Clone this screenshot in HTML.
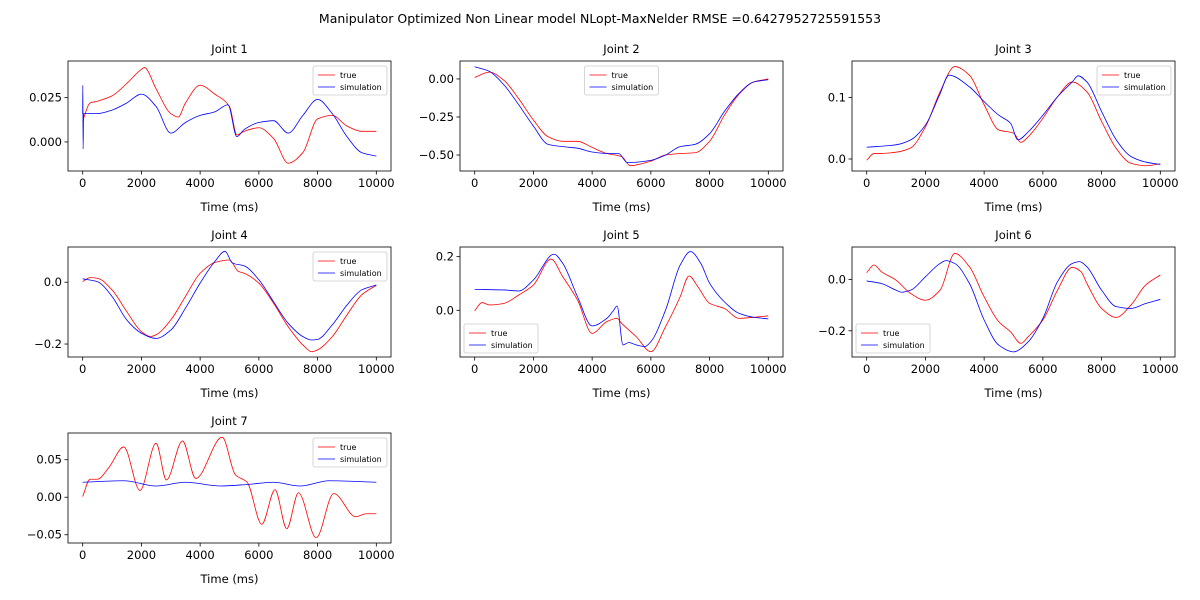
<!DOCTYPE html>
<html><head><meta charset="utf-8"><style>
body{margin:0;background:#fff;}
svg{display:block;font-family:"DejaVu Sans","Liberation Sans",sans-serif;}
</style></head><body>
<svg id="fig" width="1200" height="600" viewBox="0 0 1200 600">
<rect width="1200" height="600" fill="#fff"/>
<text x="600" y="23" text-anchor="middle" font-size="12.5" fill="#000">Manipulator Optimized Non Linear model NLopt-MaxNelder RMSE =0.6427952725591553</text>
</svg>
<script>
// ---- data ----
const xTicks = [0, 2000, 4000, 6000, 8000, 10000];
const j1TrueT = [0,250,500,1000,1500,2000,2100,2500,3000,3250,3500,4000,4500,5000,5250,5500,6000,6500,7000,7500,8000,8500,9000,9500,10000];
const j1TrueV = [0.012,0.022,0.023,0.026,0.033,0.041,0.042,0.030,0.016,0.014,0.022,0.032,0.027,0.020,0.004,0.006,0.008,0.002,-0.012,-0.006,0.013,0.015,0.009,0.006,0.006];
const j1SimT = [0,5,15,30,500,1000,1500,2000,2500,3000,3500,4000,4500,4950,5250,5500,6000,6500,7000,7500,8000,8500,9000,9500,10000];
const j1SimV = [0.016,0.032,-0.004,0.016,0.016,0.018,0.022,0.027,0.020,0.005,0.011,0.015,0.017,0.021,0.003,0.007,0.011,0.012,0.005,0.015,0.024,0.016,0.003,-0.006,-0.008];
const j2TrueT = [0,500,1000,1500,2000,2500,3000,3500,4000,4500,5000,5300,6000,6500,7000,7500,8000,8500,9000,9500,10000];
const j2TrueV = [0.01,0.045,-0.01,-0.13,-0.27,-0.38,-0.41,-0.41,-0.45,-0.49,-0.51,-0.57,-0.54,-0.50,-0.49,-0.485,-0.41,-0.24,-0.10,-0.02,0.0];
const j2SimT = [0,500,1000,1500,2000,2500,3000,3500,4000,4500,4900,5200,6000,6500,7000,7500,8000,8500,9000,9500,10000];
const j2SimV = [0.08,0.05,-0.04,-0.17,-0.31,-0.43,-0.445,-0.455,-0.48,-0.49,-0.49,-0.55,-0.535,-0.50,-0.445,-0.43,-0.36,-0.215,-0.095,-0.02,-0.005];
const j3TrueT = [0,250,500,1000,1500,2000,2500,3000,3500,4000,4500,5000,5250,5500,6000,6500,7000,7500,8000,8500,9000,9500,10000];
const j3TrueV = [-0.002,0.009,0.009,0.011,0.018,0.052,0.109,0.150,0.136,0.088,0.047,0.042,0.027,0.036,0.066,0.101,0.125,0.109,0.061,0.017,-0.007,-0.011,-0.008];
const j3SimT = [0,1000,1500,2000,2500,2800,3500,4000,4500,4900,5150,5500,6000,6500,7000,7200,7500,8000,8500,9000,9500,10000];
const j3SimV = [0.019,0.023,0.031,0.055,0.106,0.136,0.117,0.093,0.071,0.058,0.031,0.044,0.071,0.101,0.125,0.135,0.125,0.077,0.031,0.004,-0.005,-0.009];
const j4TrueT = [0,250,500,1000,1500,2000,2300,2500,3000,3500,4000,4500,5000,5300,5500,6000,6500,7000,7500,7800,8000,8500,9000,9500,10000];
const j4TrueV = [0.002,0.015,0.013,-0.025,-0.095,-0.16,-0.176,-0.17,-0.122,-0.046,0.029,0.064,0.072,0.035,0.029,-0.003,-0.068,-0.144,-0.203,-0.225,-0.219,-0.176,-0.106,-0.041,-0.01];
const j4SimT = [0,500,1000,1500,2000,2500,3000,3500,4000,4500,4850,5100,5500,6000,6500,7000,7500,7800,8000,8500,9000,9500,10000];
const j4SimV = [0.011,0.002,-0.046,-0.122,-0.165,-0.182,-0.155,-0.084,-0.003,0.067,0.10,0.062,0.053,0.008,-0.063,-0.133,-0.176,-0.187,-0.185,-0.138,-0.074,-0.025,-0.009];
const j5TrueT = [0,250,500,1000,1500,2000,2600,3000,3500,4000,4500,4850,5000,5500,6000,6500,7000,7300,7600,8000,8500,9000,9500,10000];
const j5TrueV = [-0.002,0.029,0.02,0.026,0.057,0.094,0.191,0.125,0.039,-0.086,-0.042,-0.030,-0.048,-0.098,-0.154,-0.061,0.051,0.128,0.088,0.026,0.007,-0.030,-0.026,-0.021];
const j5SimT = [0,1000,1500,2000,2700,3000,3500,4000,4500,4700,4850,5050,5250,5500,5800,6000,6500,7000,7350,7700,8000,8500,9000,9500,10000];
const j5SimV = [0.078,0.076,0.072,0.113,0.209,0.175,0.051,-0.058,-0.030,-0.005,0.016,-0.129,-0.12,-0.129,-0.135,-0.117,0.001,0.169,0.219,0.175,0.101,0.032,-0.011,-0.026,-0.032];
const j6TrueT = [0,250,500,1000,1500,2000,2500,3000,3500,4000,4500,4900,5250,5500,6000,6500,7000,7300,7500,8000,8500,9000,9500,10000];
const j6TrueV = [0.026,0.056,0.03,-0.003,-0.055,-0.081,-0.042,0.101,0.049,-0.068,-0.165,-0.204,-0.249,-0.223,-0.158,-0.042,0.047,0.03,-0.016,-0.113,-0.148,-0.10,-0.022,0.017];
const j6SimT = [0,500,1000,1200,1500,2000,2500,2700,3000,3500,4000,4500,5000,5500,6000,6500,7000,7250,7500,8000,8500,9000,9500,10000];
const j6SimV = [-0.006,-0.016,-0.042,-0.05,-0.042,0.01,0.062,0.073,0.062,-0.016,-0.158,-0.256,-0.282,-0.243,-0.152,-0.009,0.062,0.069,0.049,-0.042,-0.106,-0.113,-0.094,-0.078];
const j7TrueT = [0,250,500,900,1400,1950,2500,2850,3400,3850,4750,5200,5600,6100,6550,6950,7350,7950,8550,9300,9650,10000];
const j7TrueV = [0.001,0.024,0.024,0.040,0.067,0.009,0.072,0.023,0.075,0.025,0.080,0.030,0.020,-0.036,0.010,-0.042,0.006,-0.054,0.005,-0.026,-0.022,-0.022];
const j7SimT = [0,1400,2500,3500,4700,5600,6500,7400,8400,10000];
const j7SimV = [0.020,0.022,0.015,0.020,0.015,0.017,0.020,0.015,0.022,0.020];

const panels = [
 {title:"Joint 1", box:[68,61,391,171], y:[-0.0164,0.0457], yt:[0.000,0.025], dec:3, leg:"ur", tT:j1TrueT,tV:j1TrueV,sT:j1SimT,sV:j1SimV},
 {title:"Joint 2", box:[460,61,783,171], y:[-0.605,0.118], yt:[-0.50,-0.25,0.00], dec:2, leg:"uc", tT:j2TrueT,tV:j2TrueV,sT:j2SimT,sV:j2SimV},
 {title:"Joint 3", box:[852,61,1175,171], y:[-0.0195,0.159], yt:[0.0,0.1], dec:1, leg:"ur", tT:j3TrueT,tV:j3TrueV,sT:j3SimT,sV:j3SimV},
 {title:"Joint 4", box:[68,247,391,357], y:[-0.242,0.114], yt:[-0.2,0.0], dec:1, leg:"ur", tT:j4TrueT,tV:j4TrueV,sT:j4SimT,sV:j4SimV},
 {title:"Joint 5", box:[460,247,783,357], y:[-0.174,0.236], yt:[0.0,0.2], dec:1, leg:"ll", tT:j5TrueT,tV:j5TrueV,sT:j5SimT,sV:j5SimV},
 {title:"Joint 6", box:[852,247,1175,357], y:[-0.302,0.126], yt:[-0.2,0.0], dec:1, leg:"ll", tT:j6TrueT,tV:j6TrueV,sT:j6SimT,sV:j6SimV},
 {title:"Joint 7", box:[68,433,391,543], y:[-0.061,0.0856], yt:[-0.05,0.00,0.05], dec:2, leg:"ur", tT:j7TrueT,tV:j7TrueV,sT:j7SimT,sV:j7SimV}
];

const NS="http://www.w3.org/2000/svg";
const fig=document.getElementById('fig');
function mk(tag,attrs,parent){const e=document.createElementNS(NS,tag);for(const k in attrs)e.setAttribute(k,attrs[k]);(parent||fig).appendChild(e);return e;}
function fmt(v,d){const s=Math.abs(v).toFixed(d);return (v<-1e-9?"\u2212":"")+s;}

function monoPath(xs,ys){
 const n=xs.length;const dx=[],m=[],t=[];
 for(let i=0;i<n-1;i++){dx[i]=xs[i+1]-xs[i];m[i]=(ys[i+1]-ys[i])/(dx[i]||1e-9);}
 t[0]=m[0];t[n-1]=m[n-2];
 for(let i=1;i<n-1;i++){ if(m[i-1]*m[i]<=0)t[i]=0; else {const w1=2*dx[i]+dx[i-1],w2=dx[i]+2*dx[i-1];t[i]=(w1+w2)/(w1/m[i-1]+w2/m[i]);}}
 let d="M"+xs[0].toFixed(2)+","+ys[0].toFixed(2);
 for(let i=0;i<n-1;i++){const h=dx[i]/3;
  d+=" C"+(xs[i]+h).toFixed(2)+","+(ys[i]+t[i]*h).toFixed(2)+" "+(xs[i+1]-h).toFixed(2)+","+(ys[i+1]-t[i+1]*h).toFixed(2)+" "+xs[i+1].toFixed(2)+","+ys[i+1].toFixed(2);}
 return d;
}

panels.forEach((p,idx)=>{
 const [x0,y0,x1,y1]=p.box;
 const g=mk('g',{});
 
 
 const sx=v=>x0+(v+500)/11000*(x1-x0);
 const sy=v=>y1-(v-p.y[0])/(p.y[1]-p.y[0])*(y1-y0);
 const cid='clip'+idx;
 const cp=mk('clipPath',{id:cid},g);mk('rect',{x:x0,y:y0,width:x1-x0,height:y1-y0},cp);
 const tt=mk('text',{x:(x0+x1)/2,y:y0-8,'text-anchor':'middle','font-size':'11.5',fill:'#000'},g);tt.textContent=p.title;
 
 
 xTicks.forEach(v=>{const x=sx(v);
  const tl=mk('line',{x1:x,x2:x,y1:y1,y2:y1+3.5,stroke:'#000','stroke-width':0.8},g);
  
  
  const tx=mk('text',{x:x,y:y1+16,'text-anchor':'middle','font-size':'11.5',fill:'#000'},g);tx.textContent=String(v);
  
  
 });
 const xl=mk('text',{x:(x0+x1)/2,y:y1+40,'text-anchor':'middle','font-size':'11.5',fill:'#000'},g);xl.textContent="Time (ms)";
 
 
 p.yt.forEach(v=>{const y=sy(v);
  const tl=mk('line',{x1:x0-3.5,x2:x0,y1:y,y2:y,stroke:'#000','stroke-width':0.8},g);
  
  
  const tx=mk('text',{x:x0-6,y:y+4,'text-anchor':'end','font-size':'11.5',fill:'#000'},g);tx.textContent=fmt(v,p.dec);
  
  
 });
 const tr=mk('path',{d:monoPath(p.tT.map(sx),p.tV.map(sy)),fill:'none',stroke:'#ff0000','stroke-width':0.8,'clip-path':'url(#'+cid+')'},g);
 
 
 const sm=mk('path',{d:monoPath(p.sT.map(sx),p.sV.map(sy)),fill:'none',stroke:'#0000ff','stroke-width':0.8,'clip-path':'url(#'+cid+')'},g);
 
 
 mk('rect',{x:x0,y:y0,width:x1-x0,height:y1-y0,fill:'none',stroke:'#000','stroke-width':0.8},g);
 const lw=74,lh=29;let lx,ly;
 if(p.leg==='ur'){lx=x1-4-lw;ly=y0+5;}
 else if(p.leg==='uc'){lx=(x0+x1)/2-lw/2;ly=y0+5;}
 else {lx=x0+4;ly=y1-4-lh;}
 const lg=mk('g',{},g);
 
 
 mk('rect',{x:lx,y:ly,width:lw,height:lh,rx:2,fill:'#fff','fill-opacity':0.8,stroke:'#ccc','stroke-width':0.8},lg);
 [['true','#ff0000'],['simulation','#0000ff']].forEach((e,i)=>{
  const yy=ly+9+i*12;
  const le=mk('g',{},lg);
  
  
  mk('line',{x1:lx+5,x2:lx+22,y1:yy,y2:yy,stroke:e[1],'stroke-width':0.8},le);
  const t=mk('text',{x:lx+27,y:yy+3,'font-size':'8',fill:'#000'},le);t.textContent=e[0];
 });
});
</script>
</body></html>
